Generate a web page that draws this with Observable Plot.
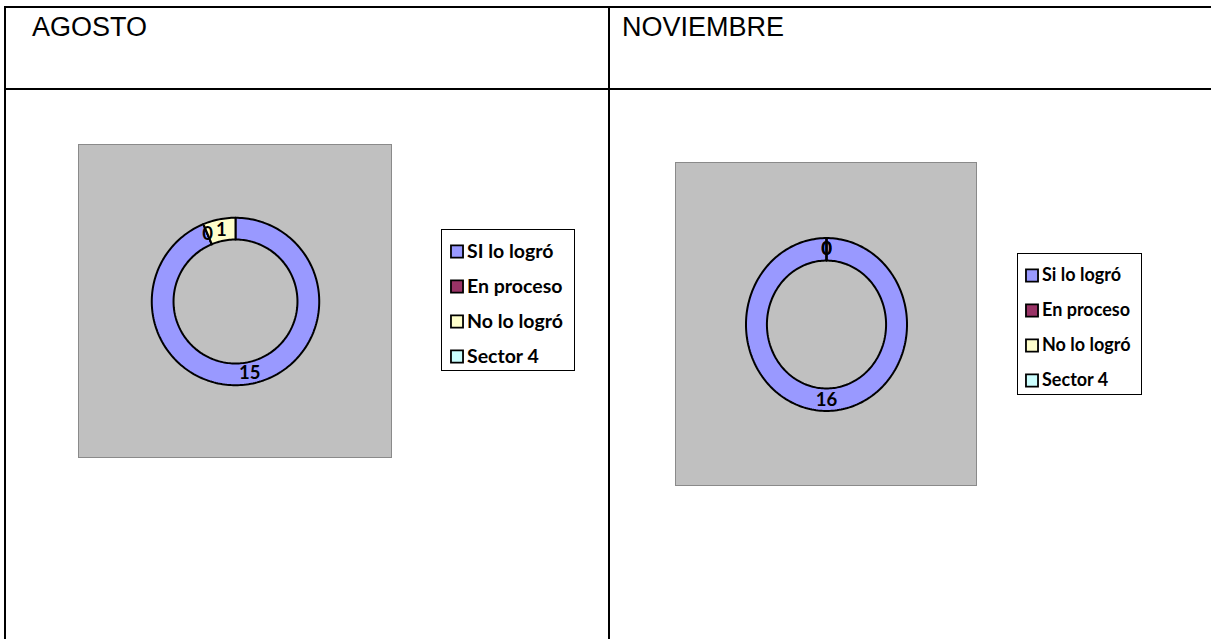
<!DOCTYPE html>
<html>
<head>
<meta charset="utf-8">
<script src="https://cdn.jsdelivr.net/npm/d3@7"></script>
<script src="https://cdn.jsdelivr.net/npm/@observablehq/plot@0.6"></script>
<style>
  html, body { margin: 0; padding: 0; background: #fff; }
  #page { position: relative; width: 1211px; height: 639px; overflow: hidden; background: #fff; }
  .ln { position: absolute; background: #000; }
  .title { position: absolute; font-family: "Liberation Sans", Arial, sans-serif; font-size: 27px; line-height: 27px; color: #000; white-space: nowrap; }
  svg.abs { position: absolute; max-width: none !important; }
</style>
</head>
<body>
<div id="page">
  <div class="ln" style="left:3.5px;top:5.5px;width:1208px;height:2.2px"></div>
  <div class="ln" style="left:3.5px;top:88px;width:1208px;height:2.2px"></div>
  <div class="ln" style="left:3.5px;top:5.5px;width:2px;height:640px"></div>
  <div class="ln" style="left:607.6px;top:5.5px;width:2.2px;height:640px"></div>
  <div class="title" id="t1" style="left:32px;top:14px">AGOSTO</div>
  <div class="title" id="t2" style="left:622px;top:14px">NOVIEMBRE</div>
</div>
<script>
// ---- data ----
const months = ["AGOSTO", "NOVIEMBRE"];
const categoriesAgosto = ["SI lo logró", "En proceso", "No lo logró", "Sector 4"];
const categoriesNoviembre = ["Si lo logró", "En proceso", "No lo logró", "Sector 4"];
const valuesAgosto = [15, 0, 1, null];
const valuesNoviembre = [16, 0, 0, null];
const sliceColors = ["#9999ff", "#993366", "#ffffcc", "#ccffff"];

// ---- helpers ----
const D = 1.863;       // half-extent of the data domain around the ring
const R_OUT = 1, R_IN = 0.74, R_LAB = 0.87;

function ring(categories, values) {
  const total = d3.sum(values.filter(v => v != null));
  let acc = 0;
  const pts = [], labels = [];
  values.forEach((v, i) => {
    if (v == null) return;
    const cat = categories[i];
    const a0 = acc / total * 2 * Math.PI;
    acc += v;
    const a1 = acc / total * 2 * Math.PI;
    const n = Math.max(1, Math.ceil((a1 - a0) / (2 * Math.PI) * 240));
    for (let k = 0; k <= n; k++) {
      const a = a0 + (a1 - a0) * k / n;
      pts.push({cat, x: R_OUT * Math.sin(a), y: R_OUT * Math.cos(a)});
    }
    for (let k = n; k >= 0; k--) {
      const a = a0 + (a1 - a0) * k / n;
      pts.push({cat, x: R_IN * Math.sin(a), y: R_IN * Math.cos(a)});
    }
    const m = (a0 + a1) / 2;
    labels.push({cat, value: v, x: R_LAB * Math.sin(m), y: R_LAB * Math.cos(m)});
  });
  return {pts, labels};
}

function donutPlot(categories, values, w, h) {
  const {pts, labels} = ring(categories, values);
  return Plot.plot({
    width: w, height: h, margin: 0,
    x: {domain: [-D, D], axis: null},
    y: {domain: [-D, D], axis: null},
    color: {domain: categories, range: sliceColors},
    style: {background: "#c0c0c0", fontFamily: "Lato, sans-serif", overflow: "visible"},
    marks: [
      Plot.line(pts, {x: "x", y: "y", z: "cat", fill: "cat", stroke: "#000", strokeWidth: 2, curve: "linear-closed"}),
      Plot.text(labels, {x: "x", y: "y", text: d => String(d.value), fontSize: 18.5, fontWeight: "bold", fill: "#000"})
    ]
  });
}

function legendPlot(categories, w, h, fs, sx) {
  return Plot.plot({
    width: w, height: h, margin: 0,
    x: {domain: [0, 1], range: [sx, w - 10], axis: null},
    y: {type: "point", domain: categories, range: [20.5, 125.5], padding: 0, axis: null},
    color: {domain: categories, range: sliceColors},
    style: {background: "#fff", fontFamily: "Lato, sans-serif", overflow: "visible"},
    marks: [
      Plot.dot(categories, {x: () => 0, y: d => d, symbol: "square", r: 6.8, fill: d => d, stroke: "#000", strokeWidth: 1.8}),
      Plot.text(categories, {x: () => 0, y: d => d, text: d => d, dx: 10, textAnchor: "start", fontSize: fs, fontWeight: "bold", fill: "#000"})
    ]
  });
}

const page = document.getElementById("page");
function place(svg, left, top, border) {
  svg.classList.add("abs");
  svg.style.left = left + "px";
  svg.style.top = top + "px";
  svg.style.border = border;
  page.appendChild(svg);
}

// AGOSTO panel
place(donutPlot(categoriesAgosto, valuesAgosto, 312, 312), 78, 144, "1.5px solid #8a8a8a");
place(legendPlot(categoriesAgosto, 132, 140, 19.5, 14.5), 441, 229, "1.6px solid #000");
// NOVIEMBRE panel
place(donutPlot(categoriesNoviembre, valuesNoviembre, 300, 322), 675, 162, "1.5px solid #8a8a8a");
place(legendPlot(categoriesNoviembre, 123, 140, 18, 13.5), 1017, 253, "1.6px solid #000");
</script>
</body>
</html>
